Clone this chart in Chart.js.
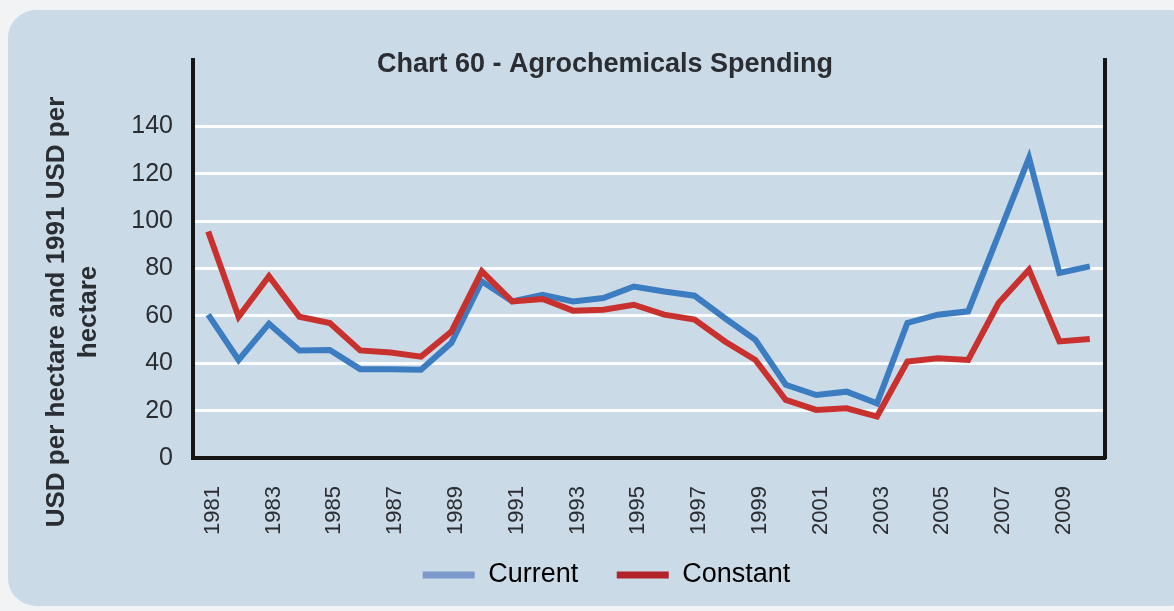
<!DOCTYPE html>
<html>
<head>
<meta charset="utf-8">
<script src="https://cdn.jsdelivr.net/npm/chart.js@4/dist/chart.umd.min.js"></script>
<style>
  html, body { margin: 0; padding: 0; background: #f1f3f5; overflow: hidden; }
  #panel {
    position: absolute; left: 8px; top: 10px; width: 1190px; height: 596px;
    background: #cbdae7; border-radius: 28px;
  }
  #grafico { position: absolute; left: 0; top: 0; }
</style>
</head>
<body>
<div id="panel"></div>
<canvas id="grafico" width="1174" height="611"></canvas>
<script>
// Datos
const years = ['1981','1982','1983','1984','1985','1986','1987','1988','1989','1990',
               '1991','1992','1993','1994','1995','1996','1997','1998','1999','2000',
               '2001','2002','2003','2004','2005','2006','2007','2008','2009','2010'];
const current = [60.5, 41.4, 56.7, 45.4, 45.6, 37.5, 37.5, 37.3, 48.6, 74.6,
                 66.1, 68.9, 66.1, 67.5, 72.4, 70.3, 68.5, 59.0, 49.9, 30.9,
                 26.6, 28.0, 23.1, 57.0, 60.5, 61.9, 94.3, 126.7, 78.1, 80.9];
const constant = [95.6, 59.6, 76.7, 59.6, 57.0, 45.4, 44.5, 42.8, 53.4, 78.8,
                  66.1, 67.1, 62.2, 62.6, 64.7, 60.5, 58.4, 49.2, 41.4, 24.5,
                  20.3, 21.0, 17.5, 40.7, 42.1, 41.4, 65.4, 79.5, 49.2, 50.2];
const seriesNames = ['Current', 'Constant'];
const yTicks = [0, 20, 40, 60, 80, 100, 120, 140];
const chartTitle = 'Chart 60 - Agrochemicals Spending';
const yTitle = ['USD per hectare and 1991 USD per', 'hectare'];

const FONT = '"Liberation Sans", Arial, sans-serif';
const TEXT = '#2a2d31';

// Título y título del eje Y dibujados a mano
const textosPlugin = {
    id: 'textos',
    afterDraw(chart) {
        const ctx = chart.ctx;
        ctx.save();
        ctx.fillStyle = TEXT;
        ctx.font = 'bold 27px ' + FONT;
        ctx.textAlign = 'center';
        ctx.textBaseline = 'alphabetic';
        ctx.fillText(chartTitle, 605, 72);

        ctx.font = 'bold 26px ' + FONT;
        ctx.translate(64, 312);
        ctx.rotate(-Math.PI / 2);
        ctx.fillText(yTitle[0], 0, 0);
        ctx.fillText(yTitle[1], 0, 32);
        ctx.restore();
    }
};

const ctx = document.getElementById('grafico').getContext('2d');
new Chart(ctx, {
    type: 'line',
    data: {
        labels: years,
        datasets: [{
            label: seriesNames[0],
            data: current,
            borderColor: '#3c7cc1',
            backgroundColor: '#7d99cc',
            borderWidth: 6,
            pointRadius: 0,
            tension: 0,
            order: 1
        }, {
            label: seriesNames[1],
            data: constant,
            borderColor: '#c9312e',
            backgroundColor: '#b2232a',
            borderWidth: 6,
            pointRadius: 0,
            tension: 0,
            order: 0
        }]
    },
    options: {
        responsive: false,
        animation: false,
        layout: { padding: { left: 108, right: 69, top: 60, bottom: 12.5 } },
        plugins: {
            tooltip: { enabled: false },
            legend: {
                position: 'bottom',
                labels: {
                    boxWidth: 52,
                    boxHeight: 7,
                    padding: 38.5,
                    color: TEXT,
                    font: { family: FONT, size: 27 },
                    generateLabels: function(chart) {
                        return chart.data.datasets.map((ds, i) => ({
                            text: ds.label,
                            fillStyle: ds.backgroundColor,
                            strokeStyle: ds.backgroundColor,
                            lineWidth: 0,
                            hidden: false,
                            datasetIndex: i
                        }));
                    }
                }
            }
        },
        scales: {
            x: {
                offset: true,
                grid: { display: false, drawTicks: false },
                border: { color: '#151515', width: 4 },
                ticks: {
                    autoSkip: false,
                    minRotation: 90,
                    maxRotation: 90,
                    mirror: true,
                    padding: -28,
                    labelOffset: 31,
                    color: TEXT,
                    font: { family: FONT, size: 22 },
                    callback: function(value, index) {
                        return index % 2 === 0 ? years[index] : '';
                    }
                },
                afterFit: function(scale) { scale.height = 65; }
            },
            y: {
                min: 0,
                max: 168,
                grid: { color: 'rgba(255,255,255,0.9)', lineWidth: 3, drawTicks: false },
                border: { color: '#151515', width: 4 },
                ticks: {
                    stepSize: 20,
                    padding: 20,
                    color: TEXT,
                    font: { family: FONT, size: 25 }
                },
                afterBuildTicks: function(scale) {
                    scale.ticks = yTicks.map(v => ({ value: v }));
                },
                afterFit: function(scale) { scale.width = 85; }
            },
            y2: {
                position: 'right',
                grid: { drawOnChartArea: false, drawTicks: false },
                border: { color: '#151515', width: 4 },
                ticks: { display: false },
                afterFit: function(scale) { scale.width = 0; }
            }
        }
    },
    plugins: [textosPlugin]
});
</script>
</body>
</html>
